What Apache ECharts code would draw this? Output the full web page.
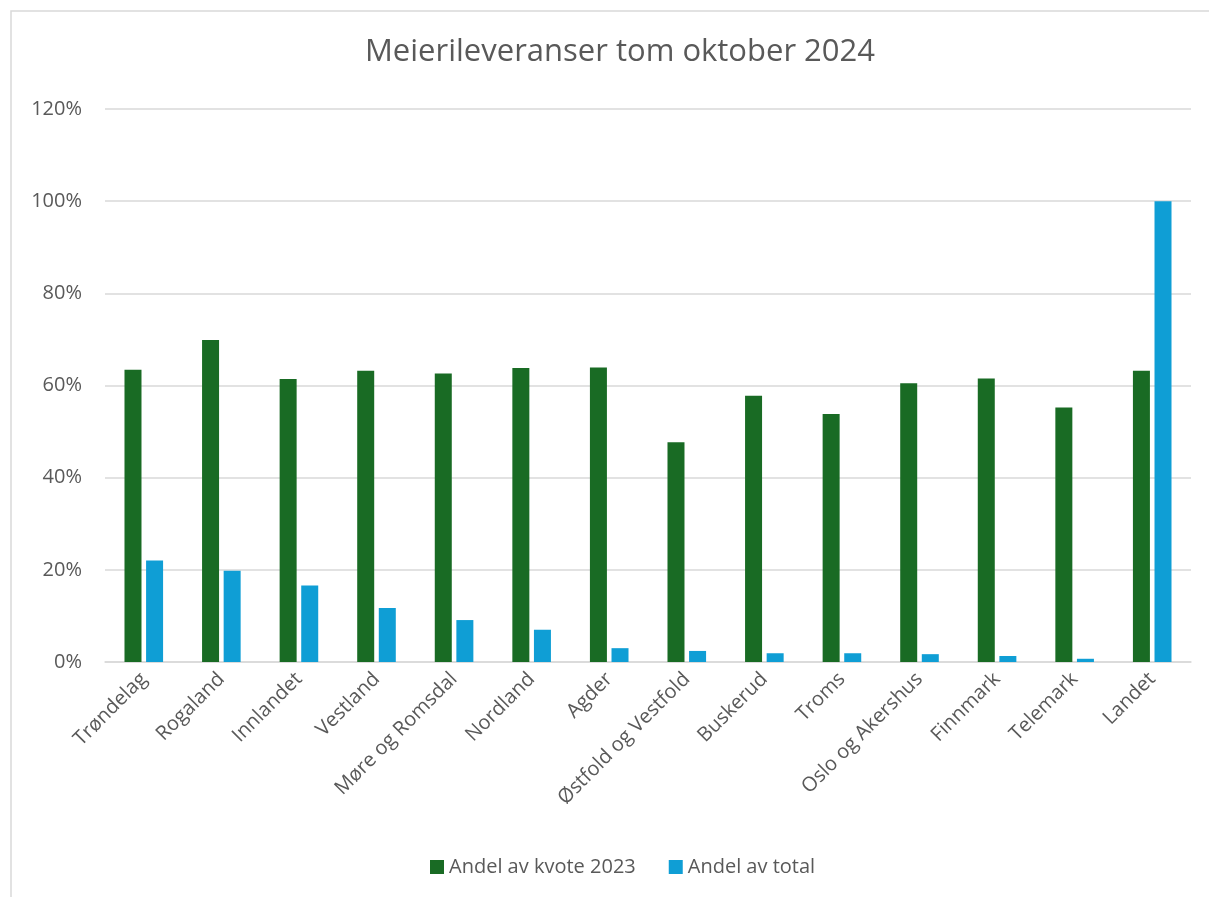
<!DOCTYPE html>
<html>
<head>
<meta charset="utf-8">
<title>Meierileveranser tom oktober 2024</title>
<script src="https://cdn.jsdelivr.net/npm/echarts@6/dist/echarts.min.js"></script>
<style>
  html, body {
    margin: 0;
    padding: 0;
    background: #ffffff;
  }
  #chart {
    width: 1209px;
    height: 897px;
  }
</style>
</head>
<body>
<div id="chart"></div>
<script>
// data
const categories = [
  'Trøndelag', 'Rogaland', 'Innlandet', 'Vestland', 'Møre og Romsdal',
  'Nordland', 'Agder', 'Østfold og Vestfold', 'Buskerud', 'Troms',
  'Oslo og Akershus', 'Finnmark', 'Telemark', 'Landet'
]
const andelKvote = [63.4, 69.9, 61.4, 63.2, 62.6, 63.8, 63.9, 47.7, 57.8, 53.8, 60.5, 61.5, 55.2, 63.2]
const andelTotal = [22.0, 19.8, 16.6, 11.7, 9.1, 7.0, 3.0, 2.4, 1.9, 1.9, 1.7, 1.3, 0.7, 100]
const seriesNames = ['Andel av kvote 2023', 'Andel av total']

const textColor = '#595959'
const gridColor = '#d9d9d9'
const fontFamily = '"Open Sans", sans-serif'

const chart = echarts.init(document.getElementById('chart'))

chart.setOption({
  animation: false,
  backgroundColor: '#ffffff',
  title: {
    text: 'Meierileveranser tom oktober 2024',
    left: 615,
    top: 32,
    textAlign: 'center',
    textStyle: {
      color: textColor,
      fontFamily: fontFamily,
      fontSize: 31,
      fontWeight: 'normal'
    }
  },
  // chart area border (top and left edges visible)
  graphic: [
    {
      type: 'polyline',
      shape: { points: [[11, 897], [11, 11], [1209, 11]] },
      style: { stroke: gridColor, lineWidth: 1.5, fill: null },
      silent: true
    }
  ],
  legend: {
    data: seriesNames,
    left: 425,
    top: 852,
    itemWidth: 14,
    itemHeight: 14,
    itemGap: 33,
    icon: 'rect',
    textStyle: {
      color: textColor,
      fontFamily: fontFamily,
      fontSize: 20
    }
  },
  grid: {
    left: 105,
    right: 18,
    top: 109,
    bottom: 235,
    containLabel: false
  },
  xAxis: {
    type: 'category',
    data: categories,
    axisLine: { show: true, lineStyle: { color: gridColor, width: 1.5 } },
    axisTick: { show: false },
    axisLabel: {
      interval: 0,
      rotate: 45,
      margin: 14,
      color: textColor,
      fontFamily: fontFamily,
      fontSize: 20
    }
  },
  yAxis: {
    type: 'value',
    min: 0,
    max: 120,
    interval: 20,
    axisLine: { show: false },
    axisTick: { show: false },
    splitLine: { lineStyle: { color: gridColor, width: 1.5 } },
    axisLabel: {
      formatter: '{value}%',
      margin: 23,
      color: textColor,
      fontFamily: fontFamily,
      fontSize: 20
    }
  },
  series: [
    {
      name: seriesNames[0],
      type: 'bar',
      data: andelKvote,
      barWidth: 17,
      barGap: '27%',
      itemStyle: { color: '#196b24' }
    },
    {
      name: seriesNames[1],
      type: 'bar',
      data: andelTotal,
      barWidth: 17,
      itemStyle: { color: '#0f9ed5' }
    }
  ]
})
</script>
</body>
</html>
